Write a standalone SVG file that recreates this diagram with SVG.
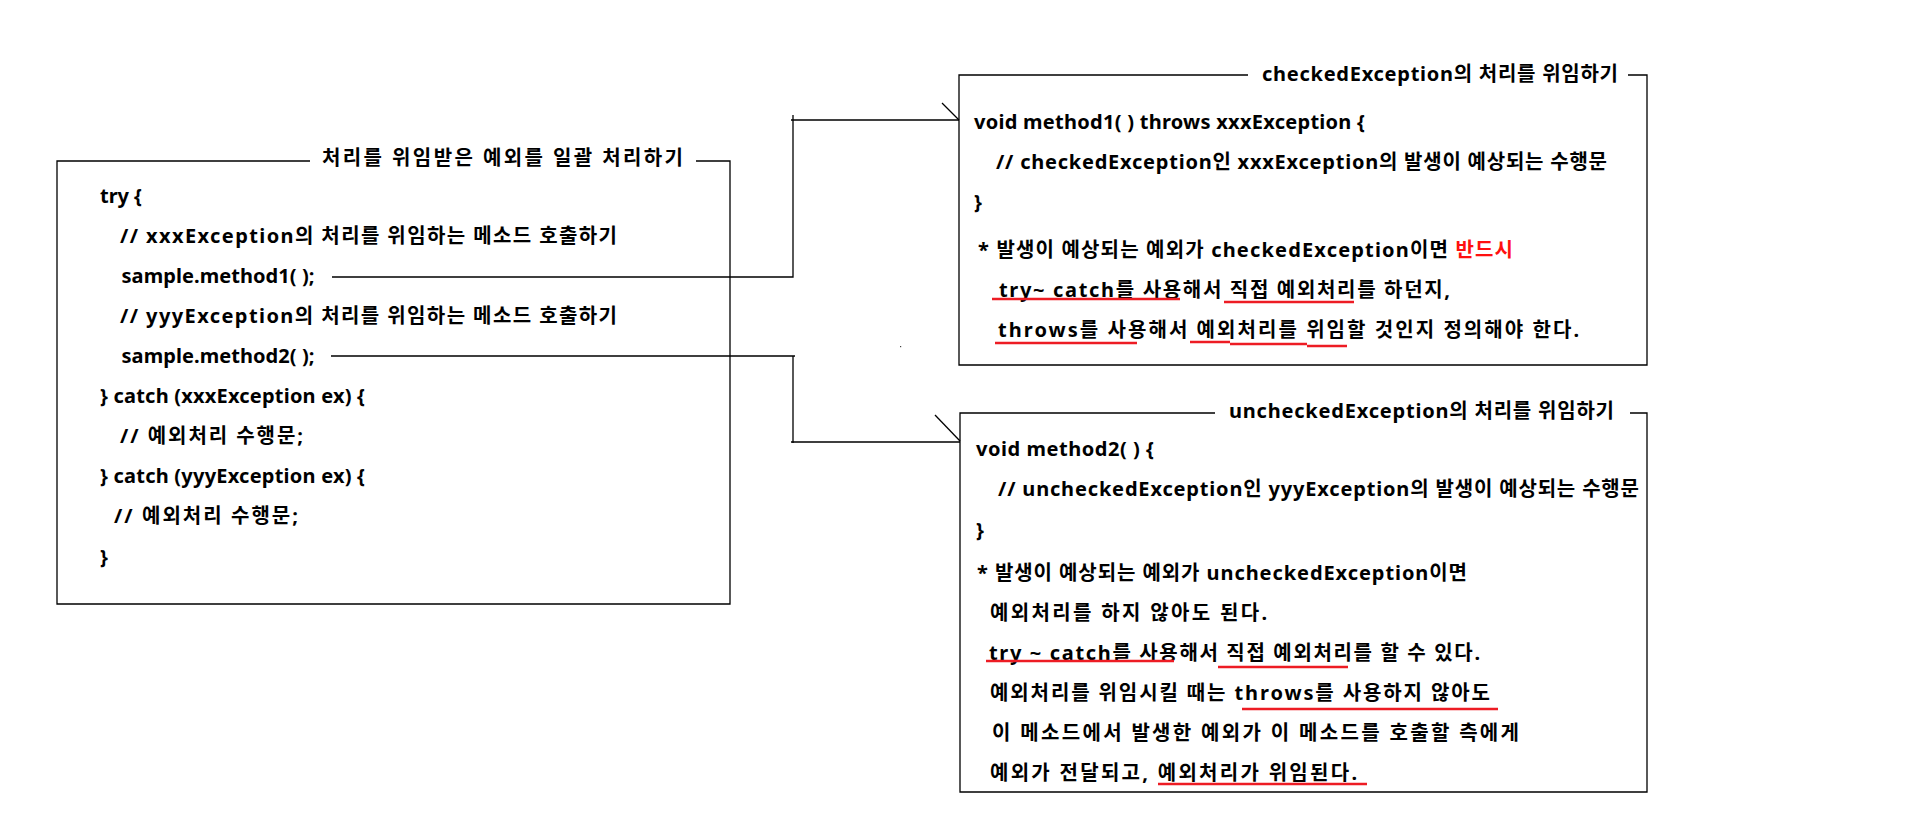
<svg xmlns="http://www.w3.org/2000/svg" width="1906" height="838" viewBox="0 0 1906 838">
<style>
  .t { font-family: "Noto Sans", "Noto Sans CJK KR", sans-serif; font-weight: 700; font-size: 20px; fill: #000; }
  .red { fill: #ff1010; }
  .box { fill: none; stroke: #000; stroke-width: 1.3; }
  .conn { fill: none; stroke: #000; stroke-width: 1.3; }
  .ul { fill: none; stroke: #ed1c24; stroke-width: 2.6; }
</style>
<rect width="1906" height="838" fill="#fff"/>

<g id="connectors">
  <path class="conn" d="M332,277 H793 V115 M791,120 H959"/>
  <path class="conn" d="M942,103 L959,120"/>
  <path class="conn" d="M331,356 H795 M793,356 V443 M791,442 H960"/>
  <path class="conn" d="M935,415 L960,441"/>
</g>

<g id="node-batch">
  <path class="box" d="M310,161 H57 V604 H730 V161 H696"/>
  <text class="t" x="322" y="165" textLength="361">처리를 위임받은 예외를 일괄 처리하기</text>
  <text class="t" x="100" y="203" textLength="42">try {</text>
  <text class="t" x="120" y="243" textLength="497">// xxxException의 처리를 위임하는 메소드 호출하기</text>
  <text class="t" x="121.5" y="283" textLength="193">sample.method1( );</text>
  <text class="t" x="120" y="323" textLength="497">// yyyException의 처리를 위임하는 메소드 호출하기</text>
  <text class="t" x="121.5" y="363" textLength="193">sample.method2( );</text>
  <text class="t" x="100" y="403" textLength="265">} catch (xxxException ex) {</text>
  <text class="t" x="120" y="443" textLength="183">// 예외처리 수행문;</text>
  <text class="t" x="100" y="483" textLength="265">} catch (yyyException ex) {</text>
  <text class="t" x="114" y="523" textLength="184">// 예외처리 수행문;</text>
  <text class="t" x="100" y="564">}</text>
</g>

<g id="node-checked">
  <path class="box" d="M1248,75 H959 V365 H1647 V75 H1628"/>
  <text class="t" x="1262" y="81" textLength="356">checkedException의 처리를 위임하기</text>
  <text class="t" x="974" y="129" textLength="391">void method1( ) throws xxxException {</text>
  <text class="t" x="996" y="169" textLength="611">// checkedException인 xxxException의 발생이 예상되는 수행문</text>
  <text class="t" x="974" y="209">}</text>
  <text class="t" x="978" y="257" textLength="535">* 발생이 예상되는 예외가 checkedException이면 <tspan class="red">반드시</tspan></text>
  <text class="t" x="999" y="297" textLength="451">try~ catch를 사용해서 직접 예외처리를 하던지,</text>
  <text class="t" x="998" y="337" textLength="581">throws를 사용해서 예외처리를 위임할 것인지 정의해야 한다.</text>
  <path class="ul" d="M992,299 H1180 M1224,302 H1354 M995,343 H1137 M1190,342 H1230 M1230,344 H1307 M1307,346 H1347"/>
</g>

<g id="node-unchecked">
  <path class="box" d="M1215,413 H960 V792 H1647 V413 H1630"/>
  <text class="t" x="1229" y="418" textLength="385">uncheckedException의 처리를 위임하기</text>
  <text class="t" x="976" y="456" textLength="178">void method2( ) {</text>
  <text class="t" x="998" y="496" textLength="641">// uncheckedException인 yyyException의 발생이 예상되는 수행문</text>
  <text class="t" x="976" y="537">}</text>
  <text class="t" x="977" y="580" textLength="490">* 발생이 예상되는 예외가 uncheckedException이면</text>
  <text class="t" x="990" y="620" textLength="277">예외처리를 하지 않아도 된다.</text>
  <text class="t" x="989" y="660" textLength="491">try ~ catch를 사용해서 직접 예외처리를 할 수 있다.</text>
  <text class="t" x="990" y="700" textLength="500">예외처리를 위임시킬 때는 throws를 사용하지 않아도</text>
  <text class="t" x="992" y="740" textLength="527">이 메소드에서 발생한 예외가 이 메소드를 호출할 측에게</text>
  <text class="t" x="990" y="780" textLength="367">예외가 전달되고, 예외처리가 위임된다.</text>
  <path class="ul" d="M986,661 H1174 M1218,667 H1348 M1242,709 H1498 M1158,784 H1367"/>
</g>

<rect x="900" y="346" width="1.2" height="1.2" fill="#444"/>
</svg>
